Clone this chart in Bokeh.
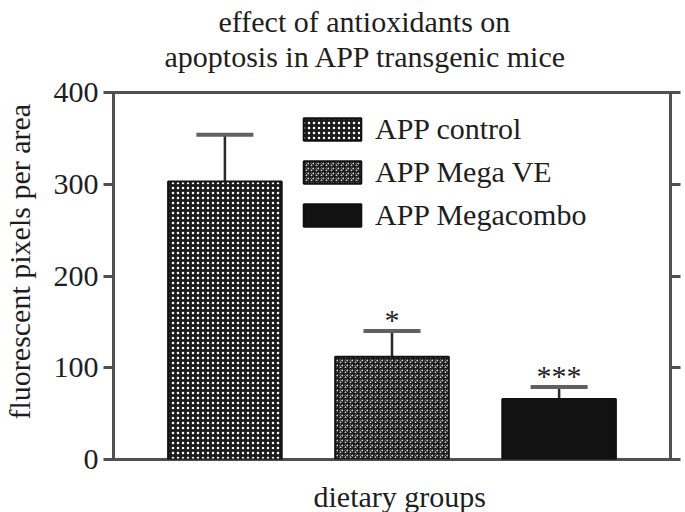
from bokeh.plotting import figure
from bokeh.models import (FactorRange, Range1d, LinearAxis, CategoricalAxis, Whisker, TeeHead,
                          ColumnDataSource, FixedTicker, Title, CustomLabelingPolicy)
from bokeh.core.properties import value
from bokeh.embed import file_html
from bokeh.resources import INLINE

# ---- data ----
groups = ["APP control", "APP Mega VE", "APP Megacombo"]
means = [303, 112, 66]
err_upper = [354, 140, 79]
stars = ["", "*", "***"]
y_ticks = [0, 100, 200, 300, 400]
title_line1 = "effect of antioxidants on"
title_line2 = "apoptosis in APP transgenic mice"
y_label = "fluorescent pixels per area"
x_label = "dietary groups"

# ---- styles ----
FONT = "Liberation Serif"
FS = "30px"
TXT = "#1e1e1e"
AX = "#505050"
fills = ["#1c1c1c", "#ffffff", "#121212"]
patterns = ["dot", "criss_cross", " "]
hatch_cols = ["#ffffff", "#1c1c1c", "#121212"]
hatch_w = [2.0, 1.4, 1.0]

src = ColumnDataSource(dict(g=groups, m=means, u=err_upper,
                            fill=fills, pat=patterns, hc=hatch_cols, hw=hatch_w))
star_src = ColumnDataSource(dict(
    g=[g for g, s in zip(groups, stars) if s],
    u=[u for u, s in zip(err_upper, stars) if s],
    s=[s for s in stars if s]))

p = figure(width=685, height=512,
           x_range=FactorRange(factors=groups, range_padding=1/9),
           y_range=Range1d(0, 400),
           output_backend="svg", toolbar_location=None,
           title=title_line1,
           min_border_left=113, min_border_right=13,
           min_border_top=92, min_border_bottom=52)

def style_title(t, offset, standoff=0):
    t.align = "left"
    t.offset = offset
    t.standoff = standoff
    t.text_font = FONT
    t.text_font_size = FS
    t.text_font_style = "normal"
    t.text_color = TXT
    return t

style_title(p.title, 105)

p.grid.visible = False
p.outline_line_color = AX
p.outline_line_width = 3
p.background_fill_color = "white"

no_labels = CustomLabelingPolicy(code="return []")

def make_spacer(a, gap):
    # an axis whose (white, detached) ticks and hidden labels only reserve a gap
    a.axis_line_color = None
    a.major_tick_line_color = "white"
    a.minor_tick_line_color = None
    a.major_tick_in = -3
    a.major_tick_out = gap
    a.major_label_standoff = 0
    a.major_label_text_font_size = "1px"
    a.major_label_policy = no_labels
    return a

# bottom: the x axis gives the gap before the axis title
make_spacer(p.xaxis[0], 14)

ya = p.yaxis[0]
ya.ticker = FixedTicker(ticks=y_ticks)
ya.minor_tick_line_color = None
ya.major_tick_in = 0
ya.major_tick_out = 10
ya.major_tick_line_color = AX
ya.major_tick_line_width = 3
ya.axis_line_color = AX
ya.axis_line_width = 3
ya.major_label_text_font = FONT
ya.major_label_text_font_size = FS
ya.major_label_text_color = TXT
ya.major_label_standoff = 5

ra = LinearAxis(ticker=FixedTicker(ticks=y_ticks))
ra.minor_tick_line_color = None
ra.major_tick_in = 0
ra.major_tick_out = 10
ra.major_tick_line_color = AX
ra.major_tick_line_width = 3
ra.axis_line_color = AX
ra.axis_line_width = 3
ra.major_label_text_font_size = "1px"
ra.major_label_standoff = 0
ra.major_label_policy = no_labels
p.add_layout(ra, "right")

p.add_layout(make_spacer(CategoricalAxis(), 16), "above")
p.add_layout(style_title(Title(text=title_line2), 51), "above")

p.add_layout(make_spacer(LinearAxis(ticker=FixedTicker(ticks=y_ticks)), 10), "left")
p.add_layout(style_title(Title(text=y_label), 40), "left")

p.add_layout(style_title(Title(text=x_label), 200), "below")

p.vbar(x="g", top="m", width=0.68, source=src,
       fill_color="fill", line_color="#111111", line_width=2,
       hatch_pattern="pat", hatch_color="hc", hatch_scale=5, hatch_weight="hw",
       legend_field="g")

w = Whisker(source=src, base="g", upper="u", lower="m",
            line_color="#2a2a2a", line_width=2.5,
            upper_head=TeeHead(size=57, line_width=4, line_color="#606060"),
            lower_head=None)
p.add_layout(w)

p.text(x="g", y="u", text="s", source=star_src, text_font=value(FONT),
       text_font_size=FS, text_align="center", text_baseline="alphabetic",
       y_offset=-12, text_color=TXT)

leg = p.legend[0]
leg.location = (183, 227)
leg.padding = 0
leg.margin = 0
leg.border_line_color = None
leg.background_fill_alpha = 0
leg.spacing = 9
leg.glyph_width = 72
leg.glyph_height = 28
leg.label_standoff = 7
leg.label_text_font = FONT
leg.label_text_font_size = FS
leg.label_text_color = TXT

open("out.html", "w").write(file_html(p, INLINE))
